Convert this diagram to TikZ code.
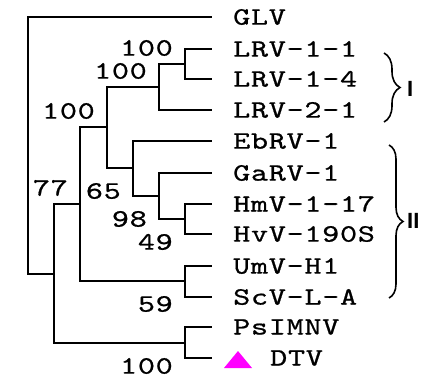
\documentclass[tikz,border=0pt]{standalone}
\usepackage{fontspec}
\usetikzlibrary{decorations.pathreplacing}
\newfontfamily\treefont[FakeStretch=1.3,LetterSpace=3,FakeBold=0.8]{lmmono10-regular.otf}
\newfontfamily\groupfont{Liberation Sans}
\definecolor{dtvmark}{RGB}{255,0,255}
\begin{document}
\begin{tikzpicture}[x=1pt,y=-1pt,
    branch/.style={line width=1.6pt},
    leaf/.style={anchor=west,inner xsep=21pt,inner ysep=0pt,
      font=\treefont\fontsize{25}{25}\selectfont},
    bsup/.style={anchor=east,inner sep=0pt,shift={(-12,-16)},
      font=\treefont\fontsize{25}{25}\selectfont},
    bsdown/.style={anchor=east,inner sep=0pt,shift={(-12,23)},
      font=\treefont\fontsize{25}{25}\selectfont},
    grp/.style={anchor=west,inner sep=0pt,
      font=\groupfont\bfseries\fontsize{22}{22}\selectfont},
    grpbrace/.style={line width=1.6pt,decorate,decoration={brace,amplitude=#1}}]
      \useasboundingbox (0,0) rectangle (423,379);

      % leaves
      \node[leaf] (l1)  at (212, 17){GLV};
      \node[leaf] (l2)  at (212, 49){LRV-1-1};
      \node[leaf] (l3)  at (212, 79){LRV-1-4};
      \node[leaf] (l4)  at (212,110){LRV-2-1};
      \node[leaf] (l5)  at (212,141){EbRV-1};
      \node[leaf] (l6)  at (212,173){GaRV-1};
      \node[leaf] (l7)  at (212,204){HmV-1-17};
      \node[leaf] (l8)  at (212,234){HvV-190S};
      \node[leaf] (l9)  at (212,266){UmV-H1};
      \node[leaf] (l10) at (212,297){ScV-L-A};
      \node[leaf] (l11) at (212,327){PsIMNV};
      \node[leaf,inner xsep=58pt] (l12) at (212,358){DTV};

      % splits
      \coordinate (s1)  at (185, 64);
      \coordinate (s2)  at (159, 87);
      \coordinate (s3)  at (185,219);
      \coordinate (s4)  at (159,196);
      \coordinate (s5)  at (133,168);
      \coordinate (s6)  at (107,127);
      \coordinate (s7)  at (185,281);
      \coordinate (s8)  at ( 80,204);
      \coordinate (s9)  at (185,343);
      \coordinate (s10) at ( 54,274);
      \coordinate (s0)  at ( 28,145);

      \draw[branch] (s0) |- (l1.west);
      \draw[branch] (s0) |- (s10);
      \draw[branch] (s10) |- (s8);
      \draw[branch] (s10) |- (s9);
      \draw[branch] (s8) |- (s6);
      \draw[branch] (s8) |- (s7);
      \draw[branch] (s6) |- (s2);
      \draw[branch] (s6) |- (s5);
      \draw[branch] (s2) |- (s1);
      \draw[branch] (s2) |- (l4.west);
      \draw[branch] (s1) |- (l2.west);
      \draw[branch] (s1) |- (l3.west);
      \draw[branch] (s5) |- (l5.west);
      \draw[branch] (s5) |- (s4);
      \draw[branch] (s4) |- (l6.west);
      \draw[branch] (s4) |- (s3);
      \draw[branch] (s3) |- (l7.west);
      \draw[branch] (s3) |- (l8.west);
      \draw[branch] (s7) |- (l9.west);
      \draw[branch] (s7) |- (l10.west);
      \draw[branch] (s9) |- (l11.west);
      \draw[branch] (s9) |- (l12.west);

      % bootstrap values
      \node[bsup]   (v1)  at (s1) {100};
      \node[bsup]   (v2)  at (s2) {100};
      \node[bsup]   (v6)  at (s6) {100};
      \node[bsup]   (v8)  at (s8) {77};
      \node[bsdown] (v5)  at (s5) {65};
      \node[bsdown] (v4)  at (s4) {98};
      \node[bsdown] (v3)  at (s3) {49};
      \node[bsdown] (v7)  at (s7) {59};
      \node[bsdown] (v9)  at (s9) {100};

      \fill[dtvmark] (224,368) -- (252,368) -- (238,351) -- cycle;

      % groups
      \draw[grpbrace=16pt] (384,53) -- (384,122);
      \draw[grpbrace=14pt] (389,145) -- (389,298);
      \node[grp] (g1) at (407, 89){I};
      \node[grp] (g2) at (407,221){II};
    \end{tikzpicture}
\end{document}
